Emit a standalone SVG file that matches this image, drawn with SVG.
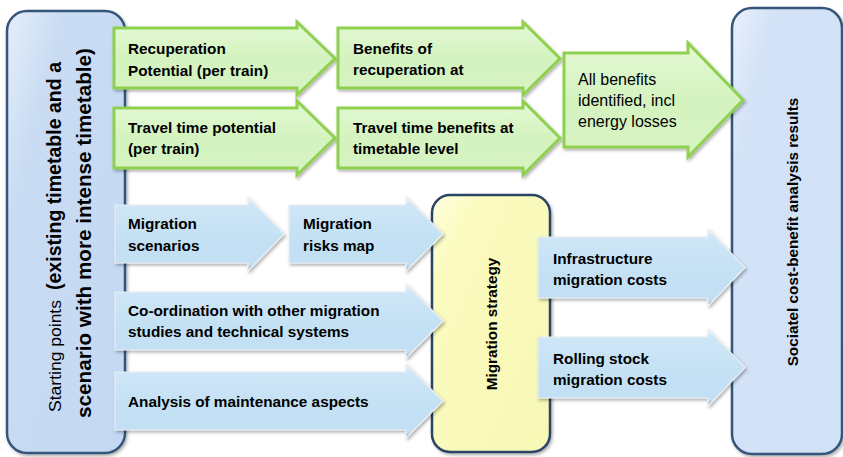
<svg xmlns="http://www.w3.org/2000/svg" width="843" height="457" viewBox="0 0 843 457">
  <defs>
    <linearGradient id="gBlueBox" x1="0" y1="0" x2="1" y2="1">
      <stop offset="0" stop-color="#e4eefa"/>
      <stop offset="0.25" stop-color="#c9dcf3"/>
      <stop offset="1" stop-color="#c4d8f2"/>
    </linearGradient>
    <linearGradient id="gRightBox" x1="0" y1="0" x2="1" y2="1">
      <stop offset="0" stop-color="#e8f0fb"/>
      <stop offset="0.2" stop-color="#d3e2f7"/>
      <stop offset="1" stop-color="#d1e1f6"/>
    </linearGradient>
    <linearGradient id="gYellow" x1="0" y1="0" x2="1" y2="1">
      <stop offset="0" stop-color="#ffffe0"/>
      <stop offset="0.2" stop-color="#fbfbbf"/>
      <stop offset="1" stop-color="#f7f7b5"/>
    </linearGradient>
    <linearGradient id="gGreen" x1="0" y1="0" x2="0" y2="1">
      <stop offset="0" stop-color="#e4f9d5"/>
      <stop offset="0.5" stop-color="#d4f3bf"/>
      <stop offset="1" stop-color="#d7f4c3"/>
    </linearGradient>
    <linearGradient id="gBlueArrow" x1="0" y1="0" x2="0" y2="1">
      <stop offset="0" stop-color="#fdfdf6"/>
      <stop offset="0.08" stop-color="#cfe7f7"/>
      <stop offset="0.6" stop-color="#c3e0f4"/>
      <stop offset="0.92" stop-color="#c2dff3"/>
      <stop offset="1" stop-color="#9a9a9a"/>
    </linearGradient>
    <filter id="shadow" x="-10%" y="-10%" width="130%" height="130%">
      <feDropShadow dx="1.5" dy="2" stdDeviation="1.5" flood-color="#000" flood-opacity="0.3"/>
    </filter>
  </defs>
  <style>
    .box { stroke-width: 2.5; filter: url(#shadow); }
    .blueBox { fill: url(#gBlueBox); stroke: #35547a; }
    .rightBox { fill: url(#gRightBox); stroke: #35547a; }
    .yellowBox { fill: url(#gYellow); stroke: #2c4564; }
    .green { fill: url(#gGreen); stroke: #8fd14f; stroke-width: 3; stroke-linejoin: miter; filter: url(#shadow); }
    .blue { fill: url(#gBlueArrow); stroke: #e8eef2; stroke-width: 1.2; stroke-linejoin: miter; filter: url(#shadow); }
    text { font-family: "Liberation Sans", Arial, sans-serif; fill: #000; }
    .lbl { font-size: 15.3px; font-weight: bold; }
    .reg { font-size: 16px; font-weight: normal; }
    .big { font-size: 20px; font-weight: bold; }
  </style>

  <!-- container boxes -->
  <g id="starting-points">
    <rect class="box blueBox" x="7" y="11" width="118" height="442" rx="20" ry="20"/>
    <text transform="translate(61,412) rotate(-90)" style="font-size:16px" textLength="112" lengthAdjust="spacingAndGlyphs">Starting points</text>
    <text class="big" transform="translate(61,290) rotate(-90)" textLength="228" lengthAdjust="spacingAndGlyphs">(existing timetable and a</text>
    <text class="big" transform="translate(91,418) rotate(-90)" textLength="370" lengthAdjust="spacingAndGlyphs">scenario with more intense timetable)</text>
  </g>

  <g id="cba-results">
    <rect class="box rightBox" x="732" y="8" width="110" height="446" rx="20" ry="20"/>
    <text class="lbl" transform="translate(798,232) rotate(-90)" text-anchor="middle">Sociatel cost-benefit analysis results</text>
  </g>

  <g id="migration-strategy">
    <rect class="box yellowBox" x="432" y="195" width="118" height="257" rx="18" ry="18"/>
    <text class="lbl" transform="translate(497,324) rotate(-90)" text-anchor="middle">Migration strategy</text>
  </g>

  <!-- benefit arrows -->
  <g id="recuperation-potential">
    <path class="green" d="M114,28 H297 V22 L335,58.5 L297,95 V88 H114 Z"/>
    <text class="lbl" x="128" y="54">Recuperation</text>
    <text class="lbl" x="128" y="76">Potential (per train)</text>
  </g>
  <g id="travel-time-potential">
    <path class="green" d="M114,108 H297 V101 L335,138 L297,175 V168 H114 Z"/>
    <text class="lbl" x="128" y="133">Travel time potential</text>
    <text class="lbl" x="128" y="154">(per train)</text>
  </g>
  <g id="recuperation-benefits">
    <path class="green" d="M338,28 H523 V22 L560,58.5 L523,95 V88 H338 Z"/>
    <text class="lbl" x="353" y="54">Benefits of</text>
    <text class="lbl" x="353" y="75">recuperation at</text>
  </g>
  <g id="travel-time-benefits">
    <path class="green" d="M338,108 H523 V101 L560,138 L523,175 V168 H338 Z"/>
    <text class="lbl" x="353" y="133">Travel time benefits at</text>
    <text class="lbl" x="353" y="154">timetable level</text>
  </g>
  <g id="all-benefits">
    <path class="green" d="M564,53 H688 V43 L743,100 L688,157 V147 H564 Z"/>
    <text class="reg" x="578" y="85">All benefits</text>
    <text class="reg" x="578" y="106">identified, incl</text>
    <text class="reg" x="578" y="127">energy losses</text>
  </g>

  <!-- migration arrows -->
  <g id="migration-scenarios">
    <path class="blue" d="M115,205 H248 V197 L284,234 L248,271 V263 H115 Z"/>
    <text class="lbl" x="128" y="229">Migration</text>
    <text class="lbl" x="128" y="251">scenarios</text>
  </g>
  <g id="migration-risks-map">
    <path class="blue" d="M289,205 H406 V197 L443,234 L406,271 V263 H289 Z"/>
    <text class="lbl" x="303" y="229">Migration</text>
    <text class="lbl" x="303" y="251">risks map</text>
  </g>
  <g id="co-ordination">
    <path class="blue" d="M115,292 H406 V284 L443,321 L406,358 V350 H115 Z"/>
    <text class="lbl" x="128" y="316">Co-ordination with other migration</text>
    <text class="lbl" x="128" y="337">studies and technical systems</text>
  </g>
  <g id="maintenance-aspects">
    <path class="blue" d="M115,372 H406 V364 L443,401 L406,438 V430 H115 Z"/>
    <text class="lbl" x="128" y="407">Analysis of maintenance aspects</text>
  </g>
  <g id="infrastructure-costs">
    <path class="blue" d="M538,237 H708 V229 L745,267.5 L708,306 V298 H538 Z"/>
    <text class="lbl" x="553" y="264">Infrastructure</text>
    <text class="lbl" x="553" y="285">migration costs</text>
  </g>
  <g id="rolling-stock-costs">
    <path class="blue" d="M538,337 H708 V329 L745,367.5 L708,406 V398 H538 Z"/>
    <text class="lbl" x="553" y="364">Rolling stock</text>
    <text class="lbl" x="553" y="385">migration costs</text>
  </g>
</svg>
